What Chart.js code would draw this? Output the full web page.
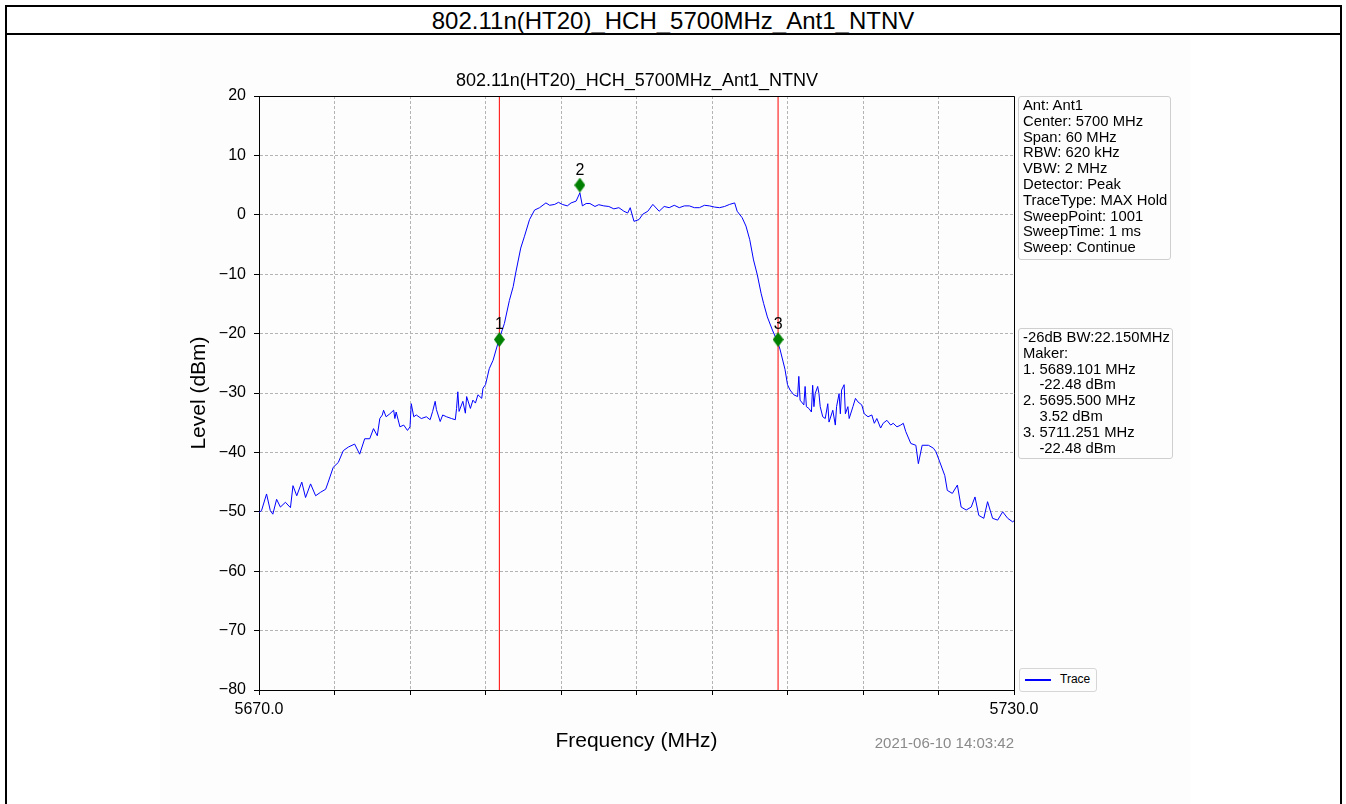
<!DOCTYPE html>
<html>
<head>
<meta charset="utf-8">
<script src="https://cdn.jsdelivr.net/npm/chart.js@4/dist/chart.umd.min.js"></script>
<style>
  html, body { margin:0; padding:0; background:#fff; width:1346px; height:804px; overflow:hidden; font-family:"Liberation Sans", Arial, sans-serif; }
  #frame { position:absolute; left:5px; top:5px; width:1337px; height:820px; border:2px solid #000; box-sizing:border-box; }
  #hline { position:absolute; left:5px; top:33px; width:1337px; height:2px; background:#000; }
  #maintitle { position:absolute; left:0; top:7px; width:1346px; text-align:center; font-size:24px; line-height:28px; color:#000; }
  #fig { position:absolute; left:160px; top:35px; width:1030px; height:769px; background:#fdfdfd; }
  #subtitle { position:absolute; left:0; top:34px; width:855px; padding-left:99px; box-sizing:border-box; text-align:center; font-size:18px; line-height:22px; color:#000; }
  .info { position:absolute; border:1px solid #cfcfcf; border-radius:3px; background:#fdfdfd; font-size:14.8px; line-height:15.8px; color:#000; white-space:pre; padding:1px 3px 0 4px; box-sizing:border-box; overflow:hidden; }
  #legend { position:absolute; left:859px; top:633px; width:78px; height:24px; border:1px solid #d6d6d6; border-radius:3px; background:#fdfdfd; box-sizing:border-box; }
  #legline { position:absolute; left:5px; top:10px; width:26px; height:1.5px; background:#0000ff; }
  #legtext { position:absolute; left:40px; top:3px; font-size:12px; color:#000; }
  #stamp { position:absolute; right:176px; top:699px; font-size:15px; line-height:18px; color:#8a8a8a; }
</style>
</head>
<body>
<div id="frame"></div>
<div id="hline"></div>
<div id="maintitle">802.11n(HT20)_HCH_5700MHz_Ant1_NTNV</div>
<div id="fig">
  <canvas id="c" width="1030" height="769"></canvas>
  <div id="subtitle">802.11n(HT20)_HCH_5700MHz_Ant1_NTNV</div>
  <div class="info" style="left:858px; top:61px; width:153px; height:164px;">Ant: Ant1
Center: 5700 MHz
Span: 60 MHz
RBW: 620 kHz
VBW: 2 MHz
Detector: Peak
TraceType: MAX Hold
SweepPoint: 1001
SweepTime: 1 ms
Sweep: Continue</div>
  <div class="info" style="left:858px; top:293px; width:155px; height:131px;">-26dB BW:22.150MHz
Maker:
1. 5689.101 MHz
    -22.48 dBm
2. 5695.500 MHz
    3.52 dBm
3. 5711.251 MHz
    -22.48 dBm</div>
  <div id="legend"><div id="legline"></div><div id="legtext">Trace</div></div>
  <div id="stamp">2021-06-10 14:03:42</div>
</div>
<script>
// ---- data ----
const traceFreq = [
 5670.0,5670.2,5670.6,5670.9,5671.1,5671.4,5671.7,5672.1,5672.5,5672.7,
 5673.0,5673.4,5673.7,5674.1,5674.5,5674.9,5675.3,5675.5,5675.9,5676.3,
 5676.7,5677.1,5677.6,5678.0,5678.4,5678.8,5679.1,5679.4,5679.6,5679.8,
 5679.9,5680.1,5680.4,5680.7,5680.8,5680.9,5681.2,5681.5,5681.8,5682.0,
 5682.1,5682.3,5682.5,5682.9,5683.3,5683.6,5683.8,5684.0,5684.1,5684.4,
 5684.6,5684.9,5685.3,5685.6,5685.7,5685.8,5685.9,5686.2,5686.4,5686.5,
 5686.8,5687.0,5687.2,5687.4,5687.7,5687.8,5688.0,5688.3,5688.6,5689.06,
 5689.5,5689.9,5690.2,5690.4,5690.8,5691.1,5691.5,5691.9,5692.3,5692.8,
 5693.1,5693.5,5693.8,5694.1,5694.5,5694.8,5695.2,5695.5,5695.7,5696.0,
 5696.3,5696.7,5697.0,5697.4,5697.8,5698.2,5698.6,5699.0,5699.3,5699.5,
 5699.8,5700.2,5700.5,5700.9,5701.3,5701.8,5702.2,5702.6,5703.0,5703.4,
 5703.8,5704.2,5704.6,5705.0,5705.4,5705.8,5706.2,5706.6,5707.0,5707.4,
 5707.8,5708.0,5708.4,5708.7,5709.0,5709.3,5709.6,5709.9,5710.1,5710.4,
 5710.8,5711.15,5711.4,5711.8,5712.0,5712.2,5712.5,5712.8,5712.9,5713.0,
 5713.3,5713.4,5713.5,5713.7,5713.9,5714.0,5714.1,5714.2,5714.4,5714.5,
 5714.6,5714.8,5715.0,5715.2,5715.3,5715.6,5715.8,5715.9,5716.1,5716.2,
 5716.3,5716.5,5716.6,5716.8,5716.9,5717.2,5717.4,5717.6,5717.9,5718.1,
 5718.4,5718.7,5718.9,5719.1,5719.4,5719.6,5719.9,5720.2,5720.4,5720.7,
 5721.0,5721.2,5721.4,5721.8,5722.2,5722.4,5722.7,5723.2,5723.6,5723.8,
 5724.1,5724.5,5724.7,5725.1,5725.5,5725.8,5726.2,5726.6,5726.9,5727.2,
 5727.6,5727.9,5728.3,5728.7,5729.1,5729.5,5729.9,5730.0
];
const traceLevel = [
 -50.1,-49.8,-47.0,-49.8,-50.4,-47.9,-49.2,-48.4,-49.3,-45.6,
 -47.3,-45.0,-47.6,-45.3,-47.3,-46.7,-46.2,-45.0,-42.5,-41.7,
 -39.7,-39.1,-38.6,-40.3,-37.7,-37.7,-36.0,-37.2,-34.3,-33.7,
 -32.9,-34.0,-33.5,-32.9,-34.3,-33.2,-35.7,-35.4,-36.3,-35.7,
 -31.8,-34.0,-33.7,-34.3,-34.0,-34.5,-33.1,-31.4,-32.8,-34.8,
 -33.7,-34.0,-34.3,-34.5,-32.6,-29.8,-33.1,-31.4,-33.4,-30.6,
 -32.6,-31.2,-31.7,-30.3,-30.9,-29.2,-28.6,-25.9,-24.5,-21.1,
 -18.3,-14.4,-12.1,-9.8,-5.6,-3.6,-0.8,0.8,1.2,2.0,
 1.6,1.75,2.1,1.75,1.5,2.0,2.3,3.7,1.5,1.9,
 1.9,1.4,1.7,1.5,1.4,1.0,1.2,0.6,0.3,1.2,
 -1.1,-0.8,0.1,0.6,1.75,0.6,1.4,1.2,1.6,1.2,
 1.5,1.5,1.2,1.2,1.6,1.5,1.3,1.2,1.4,1.75,
 2.0,0.6,-0.5,-1.9,-4.2,-7.6,-10.1,-13.2,-14.9,-17.2,
 -19.4,-21.1,-22.6,-26.0,-28.6,-29.5,-30.3,-30.6,-27.2,-31.2,
 -32.0,-28.9,-32.3,-32.6,-33.2,-28.7,-32.3,-30.1,-28.9,-30.1,
 -32.3,-34.0,-34.3,-31.8,-34.9,-32.9,-35.4,-32.3,-30.1,-33.5,
 -29.5,-28.6,-33.5,-32.3,-34.3,-32.3,-30.9,-31.5,-32.0,-33.5,
 -34.0,-33.7,-35.1,-34.3,-35.9,-35.1,-34.6,-35.4,-35.1,-35.7,
 -35.4,-35.1,-36.5,-38.5,-38.8,-41.9,-38.8,-38.8,-39.3,-39.9,
 -41.6,-43.9,-46.4,-46.9,-45.5,-49.2,-49.7,-49.2,-47.5,-50.6,
 -51.1,-48.3,-51.1,-51.4,-50.0,-51.1,-51.7,-51.5
];
const markerFreq = [5689.101, 5695.5, 5711.251];
const markerLevel = [-21.0, 5.0, -21.0];
const markerLabels = ['1', '2', '3'];
const bwLineFreq = [5689.101, 5711.251];
const xMin = 5670, xMax = 5730, xStep = 6;
const yMin = -80, yMax = 20, yStep = 10;
const xLabelTicks = [5670, 5730];

// thin diamond point style
function makeDiamond(w, h, color) {
  const c = document.createElement('canvas');
  c.width = w; c.height = h;
  const g = c.getContext('2d');
  g.fillStyle = color;
  g.beginPath();
  g.moveTo(w/2, 0); g.lineTo(w, h/2); g.lineTo(w/2, h); g.lineTo(0, h/2); g.closePath();
  g.fill();
  return c;
}
const diamond = makeDiamond(11, 15, '#008000');

const datasets = [];
datasets.push({
  label: 'Trace',
  data: traceFreq.map((f, i) => ({x: f, y: traceLevel[i]})),
  borderColor: '#0000ff', borderWidth: 1, pointRadius: 0, showLine: true, tension: 0, order: 3
});
bwLineFreq.forEach(f => {
  datasets.push({
    label: 'bw', data: [{x: f, y: yMin}, {x: f, y: yMax}],
    borderColor: '#ff0000', borderWidth: 1, pointRadius: 0, showLine: true, order: 2
  });
});
datasets.push({
  label: 'markers',
  data: markerFreq.map((f, i) => ({x: f, y: markerLevel[i]})),
  showLine: false, pointStyle: diamond, pointRadius: 7, order: 1
});
const markerDsIndex = datasets.length - 1;

const framePlugin = {
  id: 'frame',
  afterDraw(chart) {
    const {ctx, chartArea: a} = chart;
    ctx.save();
    ctx.strokeStyle = '#000';
    ctx.lineWidth = 1;
    ctx.beginPath();
    ctx.moveTo(Math.round(a.left) + 0.5, Math.round(a.top) + 0.5);
    ctx.lineTo(Math.round(a.right) + 0.5, Math.round(a.top) + 0.5);
    ctx.lineTo(Math.round(a.right) + 0.5, Math.round(a.bottom) + 0.5);
    ctx.stroke();
    // marker labels
    const meta = chart.getDatasetMeta(markerDsIndex);
    ctx.fillStyle = '#000';
    ctx.font = '16px "Liberation Sans", Arial, sans-serif';
    ctx.textAlign = 'center';
    ctx.textBaseline = 'middle';
    meta.data.forEach((pt, i) => {
      ctx.fillText(markerLabels[i], pt.x, pt.y - 15);
    });
    ctx.restore();
  }
};

const fontFam = '"Liberation Sans", Arial, sans-serif';
new Chart(document.getElementById('c'), {
  type: 'scatter',
  data: { datasets },
  plugins: [framePlugin],
  options: {
    responsive: false, animation: false, devicePixelRatio: 1,
    layout: { padding: { left: 0, right: 176, top: 61, bottom: 0 } },
    plugins: { legend: { display: false }, tooltip: { enabled: false }, title: { display: false } },
    scales: {
      x: {
        type: 'linear', position: 'bottom', min: xMin, max: xMax,
        afterBuildTicks: s => { const t = []; for (let v = xMin; v <= xMax + 1e-9; v += xStep) t.push({value: v}); s.ticks = t; },
        afterFit: s => { s.height = 114; },
        ticks: {
          autoSkip: false, maxRotation: 0, padding: 5, color: '#000',
          font: { family: fontFam, size: 16 },
          callback: v => xLabelTicks.includes(Math.round(v)) ? v.toFixed(1) : ''
        },
        grid: { color: '#b4b4b4', lineWidth: 1, tickLength: 5, tickColor: '#000', drawTicks: true },
        border: { display: true, color: '#000', width: 1, dash: [3, 2] },
        title: { display: true, text: 'Frequency (MHz)', color: '#000', font: { family: fontFam, size: 21 }, padding: { top: 0, bottom: 50 } }
      },
      y: {
        type: 'linear', position: 'left', min: yMin, max: yMax,
        afterBuildTicks: s => { const t = []; for (let v = yMin; v <= yMax + 1e-9; v += yStep) t.push({value: v}); s.ticks = t; },
        afterFit: s => { s.width = 99; },
        ticks: {
          autoSkip: false, padding: 8, color: '#000',
          font: { family: fontFam, size: 16 },
          callback: v => (v < 0 ? '\u2212' + Math.abs(v) : String(v))
        },
        grid: { color: '#b4b4b4', lineWidth: 1, tickLength: 5, tickColor: '#000', drawTicks: true },
        border: { display: true, color: '#000', width: 1, dash: [3, 2] },
        title: { display: true, text: 'Level (dBm)', color: '#000', font: { family: fontFam, size: 21 }, padding: { top: 27, bottom: 0 } }
      }
    }
  }
});
</script>
</body>
</html>
